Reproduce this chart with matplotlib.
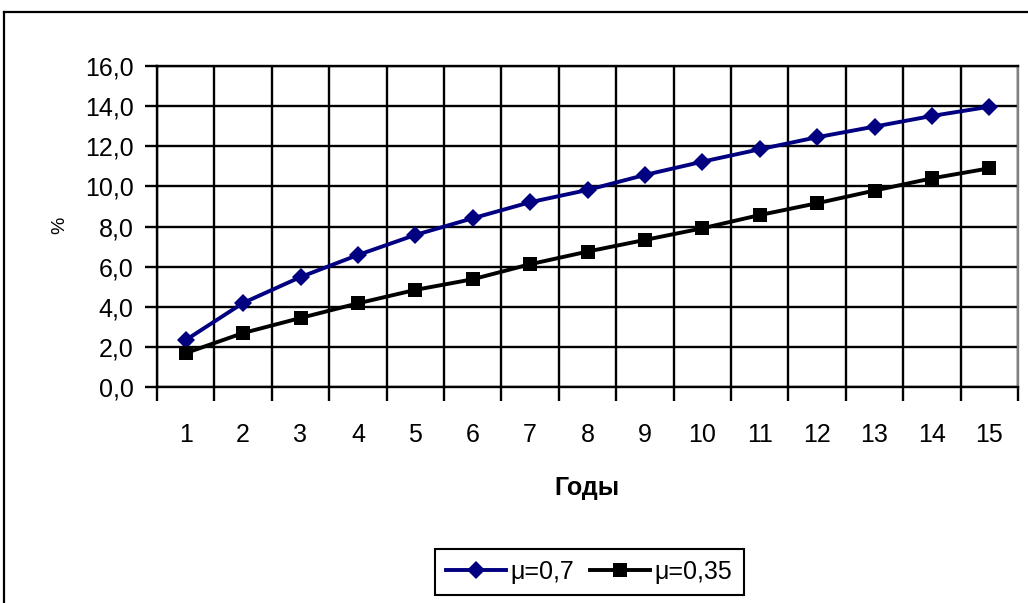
import matplotlib
matplotlib.use("Agg")
import matplotlib.pyplot as plt
from matplotlib.lines import Line2D
from matplotlib.ticker import FixedLocator, FuncFormatter

plt.rcParams['font.family'] = ['Liberation Sans Narrow', 'Liberation Sans', 'DejaVu Sans']

years = list(range(1, 16))
mu_07 = [2.34, 4.19, 5.48, 6.58, 7.58, 8.41, 9.21, 9.82, 10.57, 11.23, 11.85, 12.45, 12.98, 13.51, 13.97]
mu_035 = [1.69, 2.69, 3.44, 4.17, 4.84, 5.37, 6.12, 6.75, 7.33, 7.91, 8.57, 9.16, 9.79, 10.40, 10.90]
labels = ['\u03bc=0,7', '\u03bc=0,35']

W, H = 1028, 603
fig = plt.figure(figsize=(W / 100, H / 100), dpi=100)
ax = fig.add_axes([157 / W, 1 - 387 / H, (1018 - 157) / W, (387 - 66) / H])

ax.plot(years, mu_07, color='#000080', lw=2.8, marker='D', ms=9, mew=0, label=labels[0])
ax.plot(years, mu_035, color='black', lw=2.8, marker='s', ms=10, mew=0, label=labels[1])

ax.set_xlim(0.5, 15.5)
ax.set_ylim(0, 16)

# category labels in the middle, tick marks and grid on the boundaries
ax.xaxis.set_major_locator(FixedLocator(years))
ax.xaxis.set_minor_locator(FixedLocator([y + 0.5 for y in range(0, 16)]))
ax.set_yticks(range(0, 17, 2))
ax.yaxis.set_major_formatter(FuncFormatter(lambda v, p: f'{v:.1f}'.replace('.', ',')))

ax.tick_params(axis='x', which='major', length=0, pad=26, labelsize=18)
ax.tick_params(axis='x', which='minor', length=10, width=1.7, direction='out', color='black')
ax.tick_params(axis='y', which='major', length=9, width=1.7, direction='out', pad=8, labelsize=18)

ax.grid(True, which='minor', axis='x', color='black', lw=1.7)
ax.grid(True, which='major', axis='y', color='black', lw=1.7)
ax.set_axisbelow(True)

for side in ['left', 'bottom', 'top']:
    ax.spines[side].set_linewidth(1.7)
    ax.spines[side].set_color('black')
ax.spines['right'].set_color('#808080')
ax.spines['right'].set_linewidth(1.7)

fig.text(587 / W, 1 - 488 / H, 'Годы', ha='center', va='center', fontsize=18, fontweight='bold')
fig.text(60 / W, 1 - 225 / H, '%', ha='center', va='center', fontsize=14, rotation=90)

leg = fig.legend(loc='center', bbox_to_anchor=(589 / W, 1 - 572 / H), ncol=2, fontsize=18,
                 frameon=True, fancybox=False, edgecolor='black', framealpha=1,
                 handlelength=2.4, handletextpad=0.2, columnspacing=0.6, borderpad=0.45)
leg.get_frame().set_linewidth(1.5)

# outer chart-area border
fig.add_artist(Line2D([4 / W, 4 / W], [0, 1 - 12 / H], color='black', lw=1.6))
fig.add_artist(Line2D([4 / W, 1], [1 - 12 / H, 1 - 12 / H], color='black', lw=1.6))

fig.savefig('out.png', dpi=100)
